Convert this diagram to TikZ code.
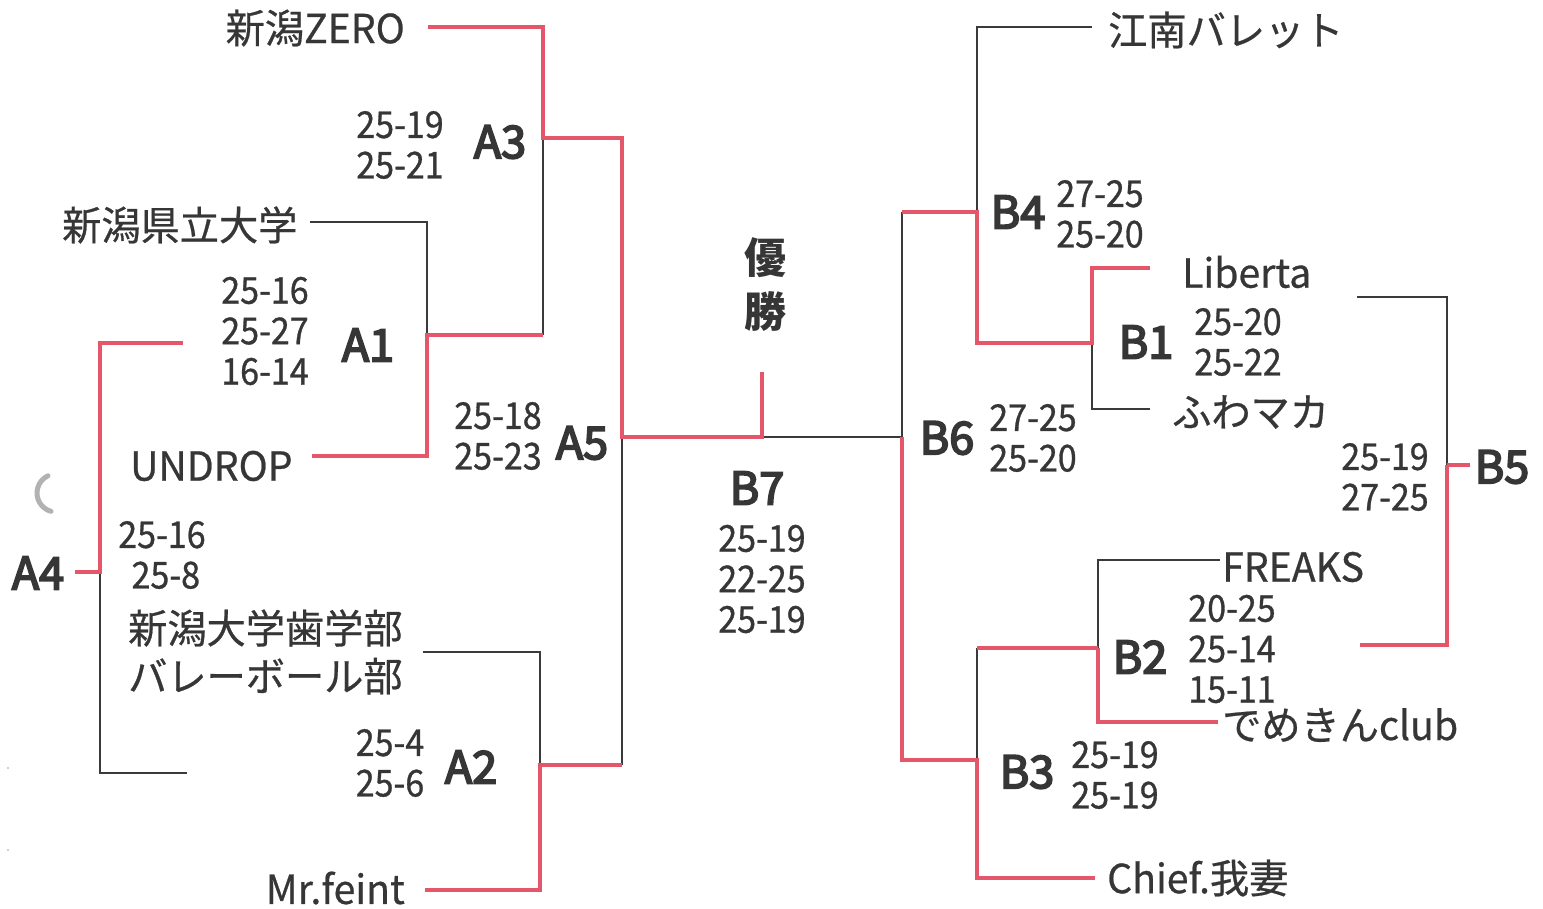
\documentclass[tikz,border=0pt]{standalone}
\usepackage{fontspec}
\setmainfont{Noto Sans CJK JP}
\newfontfamily\scorefont[FakeStretch=0.92,FakeBold=0.8]{Noto Sans CJK JP}
\newfontfamily\namefont[FakeStretch=0.98,FakeBold=0.6]{Noto Sans CJK JP}
\newfontfamily\lblfont[FakeBold=4]{Noto Sans CJK JP}
\definecolor{brk}{HTML}{E4566A}
\definecolor{txt}{HTML}{363636}
\definecolor{thin}{HTML}{3A3A3A}
\tikzset{
  redl/.style={draw=brk, line width=4pt},
  blk/.style={draw=thin, line width=1.6pt},
  team/.style={font=\namefont\fontsize{40}{48}\selectfont, text=txt, inner sep=0pt, align=left},
  score/.style={font=\scorefont\fontsize{37}{40.5}\selectfont, text=txt, inner sep=0pt, align=center},
  lbl/.style={font=\lblfont\fontsize{45}{48}\selectfont, text=txt, inner sep=0pt},
}
\begin{document}
\begin{tikzpicture}[x=1pt,y=-1pt]
\useasboundingbox (0,0) rectangle (1543,909);
\fill[white] (0,0) rectangle (1543,909);
% ---------- coordinates ----------
\coordinate (z1) at (428,27);
\coordinate (A3t) at (543,27);
\coordinate (A3m) at (543,138);
\coordinate (A3b) at (543,335);
\coordinate (p1) at (310,222);
\coordinate (A1t) at (427,222);
\coordinate (A1m) at (427,335);
\coordinate (A1b) at (427,456);
\coordinate (u1) at (312,456);
\coordinate (A5t) at (622,138);
\coordinate (A5m) at (622,437);
\coordinate (A5b) at (622,765);
\coordinate (A2m) at (540,765);
\coordinate (A2t) at (540,652);
\coordinate (d1) at (423,652);
\coordinate (A2b) at (540,890);
\coordinate (m1) at (425,890);
\coordinate (Fm) at (762,437);
\coordinate (Ft) at (762,372);
\coordinate (B6m) at (902,437);
\coordinate (B6t) at (902,212);
\coordinate (B6b) at (902,760);
\coordinate (B4m) at (977,212);
\coordinate (B4t) at (977,27);
\coordinate (k1) at (1092,27);
\coordinate (B4b) at (977,343);
\coordinate (B1m) at (1092,343);
\coordinate (B1t) at (1092,268);
\coordinate (l1) at (1150,268);
\coordinate (B1b) at (1092,409);
\coordinate (f1) at (1150,409);
\coordinate (B3m) at (977,760);
\coordinate (B3t) at (977,648);
\coordinate (B3b) at (977,878);
\coordinate (c1) at (1095,878);
\coordinate (B2m) at (1098,648);
\coordinate (B2t) at (1098,560);
\coordinate (fr1) at (1220,560);
\coordinate (B2b) at (1098,722);
\coordinate (de1) at (1218,722);
\coordinate (B5t) at (1447,297);
\coordinate (b5a) at (1357,297);
\coordinate (B5m) at (1447,465);
\coordinate (B5b) at (1447,645);
\coordinate (b5b) at (1360,645);
\coordinate (B5r) at (1470,465);
\coordinate (A4l) at (75,572);
\coordinate (A4m) at (100,572);
\coordinate (A4t) at (100,343);
\coordinate (a4a) at (183,343);
\coordinate (A4b) at (100,773);
\coordinate (a4b) at (187,773);
% ---------- black (losing) lines ----------
\draw[blk] (A3m) -- (A3b);
\draw[blk] (p1) -- (A1t) -- (A1m);
\draw[blk] (A5m) -- (A5b);
\draw[blk] (d1) -- (A2t) -- (A2m);
\draw[blk] (Fm) -- (B6m) -- (B6t);
\draw[blk] (k1) -- (B4t) -- (B4m);
\draw[blk] (B1m) -- (B1b) -- (f1);
\draw[blk] (B3m) -- (B3t);
\draw[blk] (B2m) -- (B2t) -- (fr1);
\draw[blk] (b5a) -- (B5t) -- (B5m);
\draw[blk] (A4m) -- (A4b) -- (a4b);
% ---------- red (winning) lines ----------
\draw[redl] (z1) -- (A3t) -- (A3m) -- (A5t) -- (A5m) -- (Fm) -- (Ft);
\draw[redl] (u1) -- (A1b) -- (A1m) -- (A3b);
\draw[redl] (m1) -- (A2b) -- (A2m) -- (A5b);
\draw[redl] (B6t) -- (B4m) -- (B4b) -- (B1m) -- (B1t) -- (l1);
\draw[redl] (c1) -- (B3b) -- (B3m) -- (B6b) -- (B6m);
\draw[redl] (B3t) -- (B2m);
\draw[redl] (de1) -- (B2b) -- (B2m);
\draw[redl] (B5m) -- (B5b) -- (b5b);
\draw[redl] (B5m) -- (B5r);
\draw[redl] (a4a) -- (A4t) -- (A4m) -- (A4l);
% ---------- scan mark ----------
\draw[gray!60, line width=5pt, line cap=round] ([shift={(105:19)}]56,493) arc (105:245:19);
\fill[gray!50] (8,768) circle (1.2);
\fill[gray!50] (8,850) circle (1.2);
% ---------- team names ----------
\node[team, anchor=east] (tZero) at (405,28) {新潟ZERO};
\node[team, anchor=west] (tKen) at (62,225) {新潟県立大学};
\node[team, anchor=west] (tUnd) at (130,466) {UNDROP};
\node[team, anchor=west] (tShi) at (128,652) {新潟大学歯学部\\バレーボール部};
\node[team, anchor=east] (tFeint) at (405,888) {Mr.feint};
\node[team, anchor=west] (tKonan) at (1108,30) {江南バレット};
\node[team, anchor=west] (tLib) at (1182,272) {Liberta};
\node[team, anchor=west] (tFuwa) at (1172,412) {ふわマカ};
\node[team, anchor=west] (tFre) at (1222,567) {FREAKS};
\node[team, anchor=west] (tDem) at (1222,725) {でめきんclub};
\node[team, anchor=west] (tChief) at (1107,878) {Chief.我妻};
% ---------- scores ----------
\node[score] (sA3) at (400,145) {25-19\\25-21};
\node[score] (sA1) at (265,331) {25-16\\25-27\\16-14};
\node[score] (sA4) at (162,555) {25-16\\\ 25-8};
\node[score] (sA5) at (498,436) {25-18\\25-23};
\node[score] (sA2) at (390,763) {25-4\\25-6};
\node[score] (sB7) at (762,579) {25-19\\22-25\\25-19};
\node[score] (sB4) at (1100,214) {27-25\\25-20};
\node[score] (sB1) at (1238,342) {25-20\\25-22};
\node[score] (sB6) at (1033,438) {27-25\\25-20};
\node[score] (sB5) at (1385,477) {25-19\\27-25};
\node[score] (sB2) at (1232,649) {20-25\\25-14\\15-11};
\node[score] (sB3) at (1115,775) {25-19\\25-19};
% ---------- match labels ----------
\node[lbl] (lA3) at (500,142) {A3};
\node[lbl] (lA1) at (368,345) {A1};
\node[lbl] (lA5) at (582,443) {A5};
\node[lbl] (lA4) at (38,573) {A4};
\node[lbl] (lA2) at (471,767) {A2};
\node[lbl] (lB7) at (757,488) {B7};
\node[lbl] (lB4) at (1018,212) {B4};
\node[lbl] (lB1) at (1146,342) {B1};
\node[lbl] (lB6) at (947,438) {B6};
\node[lbl] (lB5) at (1502,467) {B5};
\node[lbl] (lB2) at (1140,657) {B2};
\node[lbl] (lB3) at (1027,772) {B3};
% ---------- champion ----------
\node[font=\fontsize{42}{54}\selectfont\bfseries, text=txt, inner sep=0pt, align=center] (win) at (765,285) {優\\勝};
\end{tikzpicture}
\end{document}
